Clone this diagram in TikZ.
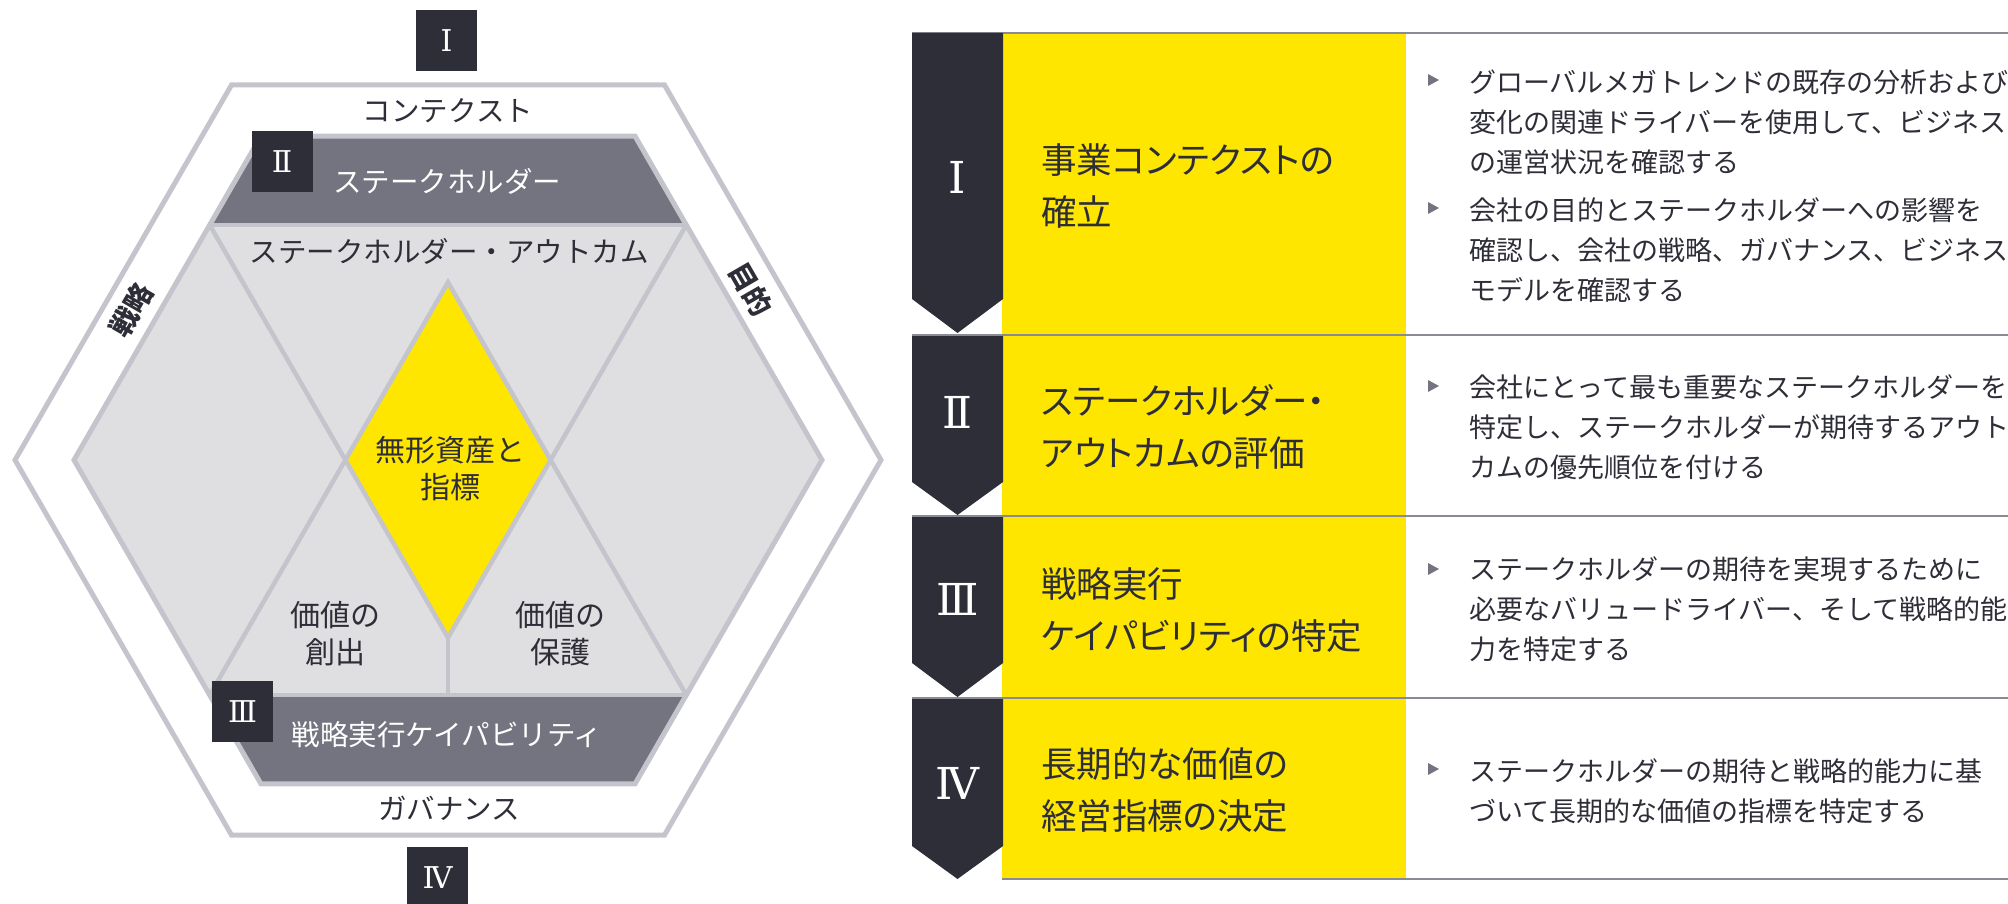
\documentclass[tikz,border=0pt]{standalone}
\usepackage{fontspec}
\setmainfont{Noto Sans CJK JP}[RawFeature={+palt}]
\newfontfamily\jpwide{Noto Sans CJK JP}
\newfontfamily\romfont{DejaVu Serif}
\definecolor{eydark}{HTML}{2E2E38}
\definecolor{eygrey}{HTML}{747480}
\definecolor{eyline}{HTML}{C4C4CD}
\definecolor{eylight}{HTML}{DFDFE1}
\definecolor{eyyellow}{HTML}{FFE600}
\definecolor{sepline}{HTML}{8A8A94}
\begin{document}
\begin{tikzpicture}[x=1pt,y=-1pt,
  hexline/.style={draw=eyline, line width=5, line join=miter},
  lattice/.style={draw=eyline, line width=4.5},
  numbox/.style={fill=eydark, minimum size=61, inner sep=0, text=white, font=\romfont\fontsize{30}{30}\selectfont},
  tabnum/.style={text=white, inner sep=0, font=\romfont\fontsize{44}{44}\selectfont},
  dtext/.style={text=eydark, inner sep=0, align=center, font=\jpwide\fontsize{28.5}{37}\selectfont},
  ktext/.style={text=eydark, inner sep=0, align=center, font=\jpwide\fontsize{30}{37}\selectfont},
  wtext/.style={text=white, inner sep=0, align=center, font=\jpwide\fontsize{28.5}{37}\selectfont},
  sidelabel/.style={text=eydark, inner sep=0, font=\jpwide\bfseries\fontsize{28}{30}\selectfont},
  titletext/.style={text=eydark, inner sep=0, anchor=west, align=left, font=\fontsize{35.5}{52}\selectfont},
  bodytext/.style={text=eydark, inner sep=0, anchor=west, align=left, font=\jpwide\fontsize{27}{40}\selectfont},
  bullet/.style={fill=eygrey},
  arrowblk/.style={fill=eydark},
  sep/.style={draw=sepline, line width=2.5}
]
\useasboundingbox (0,0) rectangle (2008,904);
\clip (0,0) rectangle (2008,904);

% ---------- hexagon diagram ----------
\filldraw[hexline, fill=white] (15,460) -- (231.5,85) -- (664.5,85) -- (881,460) -- (664.5,835) -- (231.5,835) -- cycle;
\fill[eylight] (74,460) -- (261,136.1) -- (635,136.1) -- (822,460) -- (635,783.9) -- (261,783.9) -- cycle;
\fill[eygrey] (261,136.1) -- (635,136.1) -- (686.3,225) -- (209.7,225) -- cycle;
\fill[eygrey] (209.7,695) -- (686.3,695) -- (635,783.9) -- (261,783.9) -- cycle;
\draw[lattice] (209.7,225) -- (686.3,225);
\draw[lattice] (209.7,695) -- (686.3,695);
\draw[lattice] (209.7,225) -- (345.4,460) -- (209.7,695);
\draw[lattice] (686.3,225) -- (550.6,460) -- (686.3,695);
\draw[lattice] (448,637.7) -- (448,695);
\filldraw[lattice, fill=eyyellow, line join=miter] (448,282.3) -- (550.6,460) -- (448,637.7) -- (345.4,460) -- cycle;
\draw[hexline] (74,460) -- (261,136.1) -- (635,136.1) -- (822,460) -- (635,783.9) -- (261,783.9) -- cycle;

\node[numbox] (b1) at (446.5,40.5) {Ⅰ};
\node[numbox] (b2) at (282,161.5) {Ⅱ};
\node[numbox] (b3) at (242.5,711.5) {Ⅲ};
\node[numbox] (b4) at (437.5,877.5) {Ⅳ};

\node[dtext] (ctx) at (448,111) {コンテクスト};
\node[wtext] (stk) at (447,181) {ステークホルダー};
\node[dtext] (out) at (449,251) {ステークホルダー・アウトカム};
\node[sidelabel, rotate=60] (str) at (131,310) {戦略};
\node[sidelabel, rotate=-60] (pur) at (751,289) {目的};
\node[ktext] (intang) at (450,468.5) {無形資産と\\指標};
\node[ktext] (create) at (335,634) {価値の\\創出};
\node[ktext] (protect) at (560,634) {価値の\\保護};
\node[wtext] (cap) at (447,735) {戦略実行ケイパビリティ};
\node[dtext] (gov) at (449,808) {ガバナンス};

% ---------- table ----------
\fill[eyyellow] (1002,32) rectangle (1406,879);
\draw[sep] (912,33) -- (2008,33);
\draw[sep] (912,335) -- (2008,335);
\draw[sep] (912,516) -- (2008,516);
\draw[sep] (912,698) -- (2008,698);
\draw[sep] (1002,879) -- (2008,879);

\fill[arrowblk] (912,33) -- (1003,33) -- (1003,299) -- (957.5,333) -- (912,299) -- cycle;
\fill[arrowblk] (912,336) -- (1003,336) -- (1003,482) -- (957.5,515) -- (912,482) -- cycle;
\fill[arrowblk] (912,517) -- (1003,517) -- (1003,663) -- (957.5,697) -- (912,663) -- cycle;
\fill[arrowblk] (912,699) -- (1003,699) -- (1003,846) -- (957.5,879) -- (912,846) -- cycle;

\node[tabnum] (n1) at (957.5,177) {Ⅰ};
\node[tabnum] (n2) at (957.5,412) {Ⅱ};
\node[tabnum] (n3) at (957.5,599) {Ⅲ};
\node[tabnum] (n4) at (957.5,783) {Ⅳ};

\node[titletext] (t1) at (1041,185.5) {事業コンテクストの\\確立};
\node[titletext] (t2) at (1041,427) {ステークホルダー・\\アウトカムの評価};
\node[titletext] (t3) at (1041,610) {戦略実行\\ケイパビリティの特定};
\node[titletext] (t4) at (1041,790.5) {長期的な価値の\\経営指標の決定};

\fill[bullet] (1428,74) -- (1439,80) -- (1428,86) -- cycle;
\fill[bullet] (1428,202) -- (1439,208) -- (1428,214) -- cycle;
\fill[bullet] (1428,380) -- (1439,386) -- (1428,392) -- cycle;
\fill[bullet] (1428,563) -- (1439,569) -- (1428,575) -- cycle;
\fill[bullet] (1428,763) -- (1439,769) -- (1428,775) -- cycle;

\node[bodytext] (d1) at (1469,122) {グローバルメガトレンドの既存の分析および\\変化の関連ドライバーを使用して、ビジネス\\の運営状況を確認する};
\node[bodytext] (d2) at (1469,250) {会社の目的とステークホルダーへの影響を\\確認し、会社の戦略、ガバナンス、ビジネス\\モデルを確認する};
\node[bodytext] (d3) at (1469,427) {会社にとって最も重要なステークホルダーを\\特定し、ステークホルダーが期待するアウト\\カムの優先順位を付ける};
\node[bodytext] (d4) at (1469,609) {ステークホルダーの期待を実現するために\\必要なバリュードライバー、そして戦略的能\\力を特定する};
\node[bodytext] (d5) at (1469,791) {ステークホルダーの期待と戦略的能力に基\\づいて長期的な価値の指標を特定する};
\end{tikzpicture}
\end{document}
